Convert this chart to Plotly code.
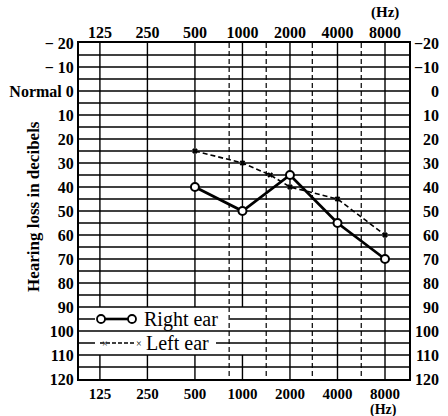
import numpy as np
import plotly.graph_objects as go

# ---------------- data ----------------
freq_ticks = [125, 250, 500, 1000, 2000, 4000, 8000]
freq_labels = ["125", "250", "500", "1000", "2000", "4000", "8000"]
db_ticks = list(range(-20, 121, 10))
left_db_labels = ["− 20", "− 10", "Normal 0", "10", "20", "30", "40", "50",
                  "60", "70", "80", "90", "100", "110", "120"]
right_db_labels = ["−20", "−10", "0", "10", "20", "30", "40", "50",
                   "60", "70", "80", "90", "100", "110", "120"]

right_freq = [500, 1000, 2000, 4000, 8000]
right_db = [40, 50, 35, 55, 70]
left_freq = [500, 1000, 1500, 2000, 4000, 8000]
left_db = [25, 30, 35, 40, 45, 60]

# positions of the dashed half-octave lines (in octaves above 125 Hz)
half_oct_lines = [2.72, 3.5, 4.47, 5.5]


def oct_pos(f):
    return np.log2(np.asarray(f, dtype=float) / 125.0)


# ---------------- layout geometry ----------------
W, H = 448, 416
ML, MR, MT, MB = 79, 39, 43, 37
PW, PH = W - ML - MR, H - MT - MB


def px_x(px):
    return (px - ML) / PW


def px_y(py):
    return (H - MB - py) / PH


FONT = "Liberation Serif"

fig = go.Figure()

fig.add_trace(go.Scatter(
    x=oct_pos(right_freq), y=right_db, mode="lines+markers",
    line=dict(color="black", width=2.8),
    marker=dict(symbol="circle", size=8, color="white",
                line=dict(color="black", width=2)),
    hoverinfo="skip", showlegend=False, name="Right ear"))

fig.add_trace(go.Scatter(
    x=oct_pos(left_freq), y=left_db, mode="lines+markers",
    line=dict(color="black", width=1.6, dash="5px,3px"),
    marker=dict(symbol="x", size=5, color="black"),
    hoverinfo="skip", showlegend=False, name="Left ear",
    xaxis="x2", yaxis="y2"))

shapes = []
# horizontal grid lines every 5 dB
for d in range(-15, 120, 5):
    shapes.append(dict(type="line", xref="paper", yref="y", x0=0, x1=1,
                       y0=d, y1=d, line=dict(color="black", width=1.4),
                       layer="below"))
# vertical solid lines at octave frequencies
for f in freq_ticks:
    xp = float(oct_pos(f))
    if f <= 1000:
        segs = [(-20, 90), (110, 120)]
    else:
        segs = [(-20, 120)]
    for a, b in segs:
        shapes.append(dict(type="line", xref="x", yref="y", x0=xp, x1=xp,
                           y0=a, y1=b, line=dict(color="black", width=1.4),
                           layer="below"))
# dashed half-octave lines
for xp in half_oct_lines:
    shapes.append(dict(type="line", xref="x", yref="y", x0=xp, x1=xp,
                       y0=-20, y1=120,
                       line=dict(color="black", width=1.2, dash="5px,3px"),
                       layer="below"))
# white patches behind the legend entries
shapes.append(dict(type="rect", xref="paper", yref="y",
                   x0=px_x(95), x1=px_x(230), y0=92.6, y1=97.4,
                   fillcolor="white", line=dict(width=0), layer="below"))
shapes.append(dict(type="rect", xref="paper", yref="y",
                   x0=px_x(95), x1=px_x(216), y0=102.6, y1=107.4,
                   fillcolor="white", line=dict(width=0), layer="below"))
# legend glyphs
shapes.append(dict(type="line", xref="paper", yref="y",
                   x0=px_x(101), x1=px_x(132), y0=95, y1=95,
                   line=dict(color="black", width=2.6), layer="below"))
for gx in (101, 132):
    shapes.append(dict(type="circle", xref="paper", yref="y",
                       xsizemode="pixel", ysizemode="pixel",
                       xanchor=px_x(gx), yanchor=95,
                       x0=-4, x1=4, y0=-4, y1=4,
                       fillcolor="white", line=dict(color="black", width=1.8),
                       layer="below"))
shapes.append(dict(type="line", xref="paper", yref="y",
                   x0=px_x(100), x1=px_x(134), y0=105, y1=105,
                   line=dict(color="black", width=1.4, dash="4px,2px"),
                   layer="below"))

annotations = []
for gx in (100, 134):
    annotations.append(dict(text="×", xref="paper", yref="y", x=px_x(gx), y=105,
                            showarrow=False, font=dict(family=FONT, size=10,
                                                       color="black")))
annotations.append(dict(text="Right ear", xref="paper", yref="y",
                        x=px_x(142), y=95, xanchor="left", yanchor="middle",
                        showarrow=False,
                        font=dict(family=FONT, size=20, color="black")))
annotations.append(dict(text="Left ear", xref="paper", yref="y",
                        x=px_x(144), y=105, xanchor="left", yanchor="middle",
                        showarrow=False,
                        font=dict(family=FONT, size=20, color="black")))
# right-hand tick labels (right aligned)
for v, lab in zip(db_ticks, right_db_labels):
    annotations.append(dict(text=lab, xref="paper", yref="y", x=px_x(441), y=v,
                            xanchor="right", yanchor="middle", showarrow=False,
                            font=dict(family=FONT, size=16, color="black",
                                      weight="bold")))
# (Hz) labels
annotations.append(dict(text="(Hz)", xref="paper", yref="paper",
                        x=px_x(385), y=px_y(12), xanchor="center",
                        yanchor="middle", showarrow=False,
                        font=dict(family=FONT, size=15, color="black",
                                  weight="bold")))
annotations.append(dict(text="(Hz)", xref="paper", yref="paper",
                        x=px_x(383), y=px_y(410), xanchor="center",
                        yanchor="middle", showarrow=False,
                        font=dict(family=FONT, size=14, color="black",
                                  weight="bold")))
# y-axis title
annotations.append(dict(text="Hearing loss in decibels", xref="paper",
                        yref="paper", x=px_x(33), y=px_y(207), textangle=-90,
                        xanchor="center", yanchor="middle",
                        showarrow=False,
                        font=dict(family=FONT, size=17, color="black",
                                  weight="bold")))

tickfont = dict(family=FONT, size=16, color="black", weight="bold")
bottom_tickfont = dict(family=FONT, size=15, color="black", weight="bold")
xr = [-0.44, 6.505]

fig.update_layout(
    width=W, height=H,
    margin=dict(l=ML, r=MR, t=MT, b=MB),
    paper_bgcolor="white", plot_bgcolor="white",
    shapes=shapes, annotations=annotations,
    xaxis=dict(range=xr, tickmode="array", tickvals=oct_pos(freq_ticks),
               ticktext=freq_labels, showgrid=False, zeroline=False,
               showline=True, linewidth=2, linecolor="black", mirror=True,
               ticks="", tickfont=bottom_tickfont, automargin=False),
    xaxis2=dict(range=xr, overlaying="x", side="top", tickmode="array",
                tickvals=oct_pos(freq_ticks), ticktext=freq_labels,
                showgrid=False, zeroline=False, showline=False, ticks="",
                tickfont=tickfont, automargin=False, ticklabelstandoff=1),
    yaxis=dict(range=[120, -20], tickmode="array", tickvals=db_ticks,
               ticktext=left_db_labels, showgrid=False, zeroline=False,
               showline=True, linewidth=2, linecolor="black", mirror=True,
               ticks="", tickfont=tickfont, automargin=False),
    yaxis2=dict(range=[120, -20], overlaying="y", side="right",
                showticklabels=False, showgrid=False, zeroline=False,
                showline=False, ticks="", automargin=False),
)

fig.write_html("out.html", config={"displayModeBar": False},
               post_script="document.body.style.margin='0';"
                           "document.body.style.overflow='hidden';")
